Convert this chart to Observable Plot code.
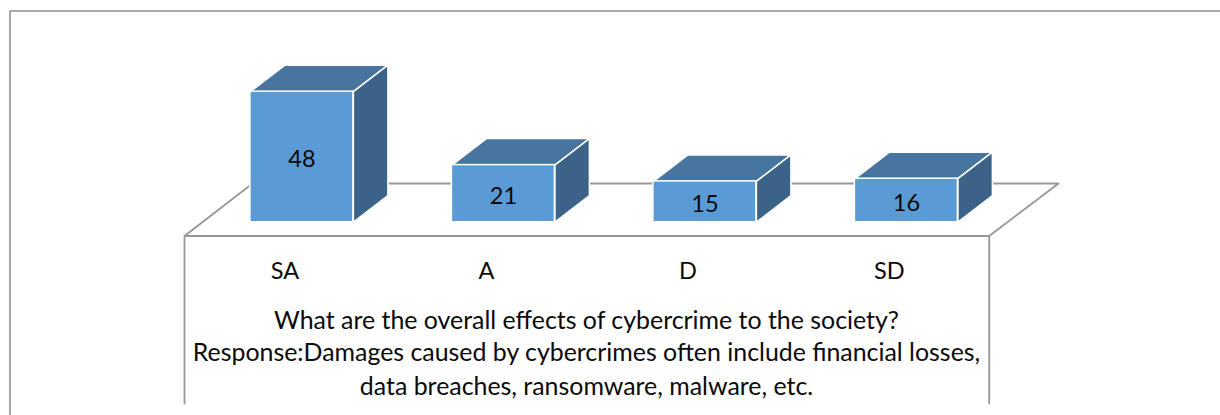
<!DOCTYPE html>
<html>
<head>
<meta charset="utf-8">
<script src="https://cdn.jsdelivr.net/npm/d3@7"></script>
<script src="https://cdn.jsdelivr.net/npm/@observablehq/plot@0.6"></script>
<style>
html,body{margin:0;padding:0;background:#fff;}
svg{display:block;}
</style>
</head>
<body>
<div id="chart"></div>
<script>
const categories = ["SA", "A", "D", "SD"];
const values = [48, 21, 15, 16];
const captionLines = [
  "What are the overall effects of cybercrime to the society?",
  "Response:Damages caused by cybercrimes often include financial losses,",
  "data breaches, ransomware, malware, etc."
];
const colors = {front: "#5b9bd5", top: "#4775a0", side: "#3b638a", rule: "#979797", ink: "#0a0a0a"};

// Value scale: 2.72 px per unit, category scale: 201.5 px per category
const W = 1220, H = 415;
const pxX = 201.5, pxY = 2.72;
const x0 = 301.4, y0 = 221.7;
const xDomain = [-x0 / pxX, (W - x0) / pxX];
const yDomain = [y0 / pxY, (y0 - H) / pxY];
const halfBar = 51.5 / pxX, depthX = 34.5 / pxX, depthY = 26.5 / pxY;

const rows = categories.map((c, i) => ({c, i, v: values[i]}));
const topFaces = rows.flatMap(r => [
  [r.i - halfBar, r.v], [r.i + halfBar, r.v],
  [r.i + halfBar + depthX, r.v + depthY], [r.i - halfBar + depthX, r.v + depthY],
  [r.i - halfBar, r.v]
].map(([x, y]) => ({x, y, z: r.c})));
const sideFaces = rows.flatMap(r => [
  [r.i + halfBar, 0], [r.i + halfBar, r.v],
  [r.i + halfBar + depthX, r.v + depthY], [r.i + halfBar + depthX, depthY],
  [r.i + halfBar, 0]
].map(([x, y]) => ({x, y, z: r.c})));

// Chart floor and surrounding box, in scale units
const u = (px, py) => ({x: (px - x0) / pxX, y: (y0 - py) / pxY});
const floor = [u(184, 403), u(184, 235.5), u(988.7, 235.5), u(1058, 183), u(252, 183), u(184, 235.5)];
const boxRight = [u(988.7, 235.5), u(988.7, 403)];
const frame = [u(9.5, 415), u(9.5, 10.5), u(1220, 10.5)];
const catLabelY = u(0, 270.5).y, catShift = -17 / pxX;
const captionX = u(586, 0).x;
const captionY = [321, 353, 387].map(p => u(0, p).y);

const font = "Lato, Carlito, Calibri, sans-serif";
const chart = Plot.plot({
  width: W, height: H,
  margin: 0,
  style: {background: "#fff"},
  x: {domain: xDomain, range: [0, W], axis: null},
  y: {domain: yDomain, range: [0, H], axis: null},
  marks: [
    Plot.line(floor, {x: "x", y: "y", stroke: colors.rule, strokeWidth: 1.8}),
    Plot.line(boxRight, {x: "x", y: "y", stroke: colors.rule, strokeWidth: 1.8}),
    Plot.line(frame, {x: "x", y: "y", stroke: "#8f8f8f", strokeWidth: 1.6}),
    Plot.line(topFaces, {x: "x", y: "y", z: "z", fill: colors.top, stroke: "#fff", strokeWidth: 1.5}),
    Plot.line(sideFaces, {x: "x", y: "y", z: "z", fill: colors.side, stroke: "#fff", strokeWidth: 1.5}),
    Plot.rect(rows, {x1: r => r.i - halfBar, x2: r => r.i + halfBar, y1: 0, y2: "v", fill: colors.front, stroke: "#fff", strokeWidth: 1.5}),
    Plot.text(rows, {x: "i", y: r => r.v / 2, text: r => String(r.v), dy: 3, fontSize: 23.5, fontFamily: font, fill: colors.ink}),
    Plot.text(rows, {x: r => r.i + catShift, y: catLabelY, text: "c", fontSize: 23.5, fontFamily: font, fill: colors.ink}),
    Plot.text(captionLines, {x: captionX, y: (d, i) => captionY[i], text: d => d, fontSize: 24.9, fontFamily: font, fill: colors.ink})
  ]
});
document.getElementById("chart").append(chart);
</script>
</body>
</html>
